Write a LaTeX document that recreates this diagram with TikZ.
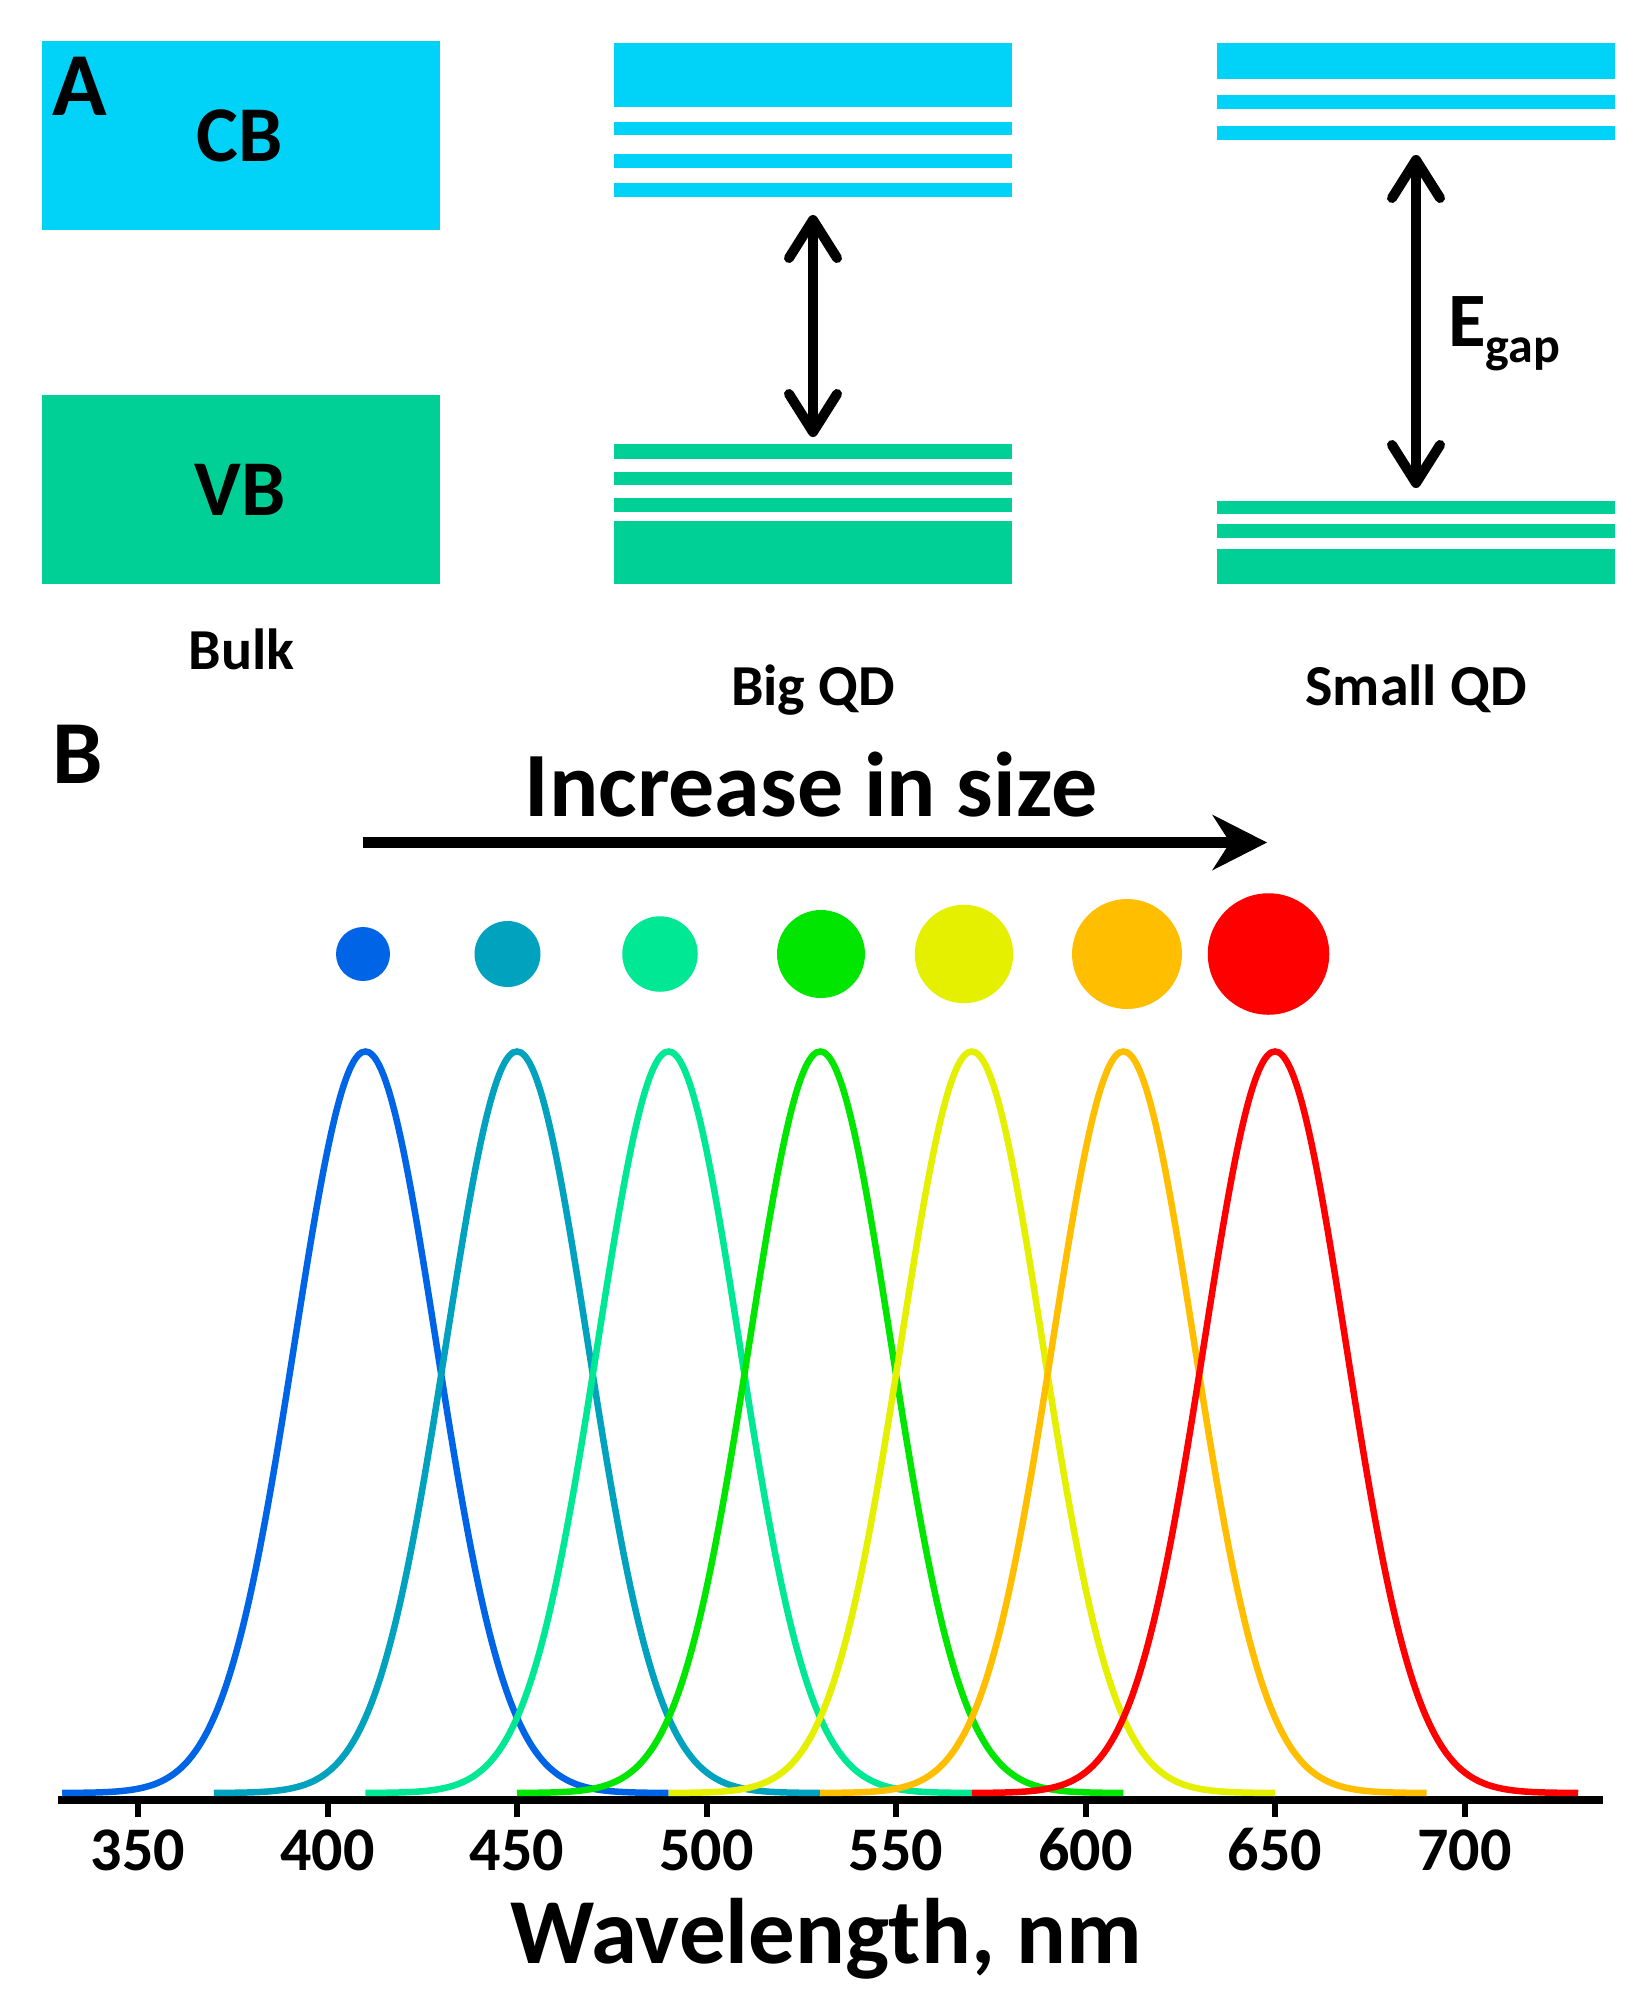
\documentclass[tikz,border=0pt]{standalone}
\usepackage{fontspec}
\setmainfont{Carlito}
\usetikzlibrary{arrows.meta}
\definecolor{cbcol}{RGB}{0,210,248}
\definecolor{vbcol}{RGB}{0,207,150}
\definecolor{qa}{RGB}{0,100,230}
\definecolor{qb}{RGB}{0,162,190}
\definecolor{qc}{RGB}{0,232,148}
\definecolor{qd}{RGB}{0,230,0}
\definecolor{qe}{RGB}{228,240,0}
\definecolor{qf}{RGB}{255,190,0}
\definecolor{qg}{RGB}{255,0,0}
\newcommand{\myfs}[1]{\fontsize{#1}{#1}\selectfont}
\begin{document}
\begin{tikzpicture}[x=1pt,y=-1pt,
  lbl/.style={inner sep=0pt, outer sep=0pt, font=\bfseries},
  cbband/.style={fill=cbcol},
  vbband/.style={fill=vbcol},
  gaparrow/.style={line width=10pt,
    {Straight Barb[round,length=38pt,width=48pt]}-{Straight Barb[round,length=38pt,width=48pt]}},
  sizearrow/.style={line width=11pt, -{Stealth[length=55pt,width=56pt,inset=18pt,line width=0pt]}},
  spec/.style={line width=6.5pt},
  dot/.style={circle, inner sep=0pt, outer sep=0pt, draw=none},
  axisline/.style={line width=8pt},
  tickline/.style={line width=6pt}]
\useasboundingbox (0,0) rectangle (1651,2008);
\fill[white] (0,0) rectangle (1651,2008);

% ---------- Panel A ----------
% Bulk
\fill[cbband] (42,41) rectangle (440,230);
\fill[vbband] (42,395) rectangle (440,584);
\node[lbl, anchor=base west] (labA) at (52,115) {\myfs{90}A};
\node[lbl, anchor=base] (cb) at (240,161.5) {\myfs{79}CB};
\node[lbl, anchor=base] (vb) at (240,515.5) {\myfs{79}VB};
\node[lbl, anchor=base] (bulk) at (241.5,669) {\myfs{58}Bulk};

% Big QD
\fill[cbband] (614,43) rectangle (1012,106.5);
\fill[cbband] (614,122) rectangle (1012,135);
\fill[cbband] (614,154) rectangle (1012,167.5);
\fill[cbband] (614,182.5) rectangle (1012,196.5);
\fill[vbband] (614,444) rectangle (1012,458.5);
\fill[vbband] (614,471.5) rectangle (1012,485);
\fill[vbband] (614,498) rectangle (1012,512);
\fill[vbband] (614,521) rectangle (1012,584);
\coordinate (bigtop) at (813,215);
\coordinate (bigbot) at (813,437);
\draw[gaparrow] (bigtop) -- (bigbot);
\node[lbl, anchor=base] (bigqd) at (813,705) {\myfs{58}Big QD};

% Small QD
\fill[cbband] (1217,43) rectangle (1615,78.5);
\fill[cbband] (1217,95) rectangle (1615,108.5);
\fill[cbband] (1217,125.5) rectangle (1615,139.5);
\fill[vbband] (1217,500.5) rectangle (1615,514);
\fill[vbband] (1217,523.5) rectangle (1615,537.5);
\fill[vbband] (1217,549) rectangle (1615,584);
\coordinate (smalltop) at (1416,155);
\coordinate (smallbot) at (1416,488);
\draw[gaparrow] (smalltop) -- (smallbot);
\node[lbl, anchor=base west] (egap) at (1448,346) {\myfs{77}E\raisebox{-16pt}{\myfs{50}gap}};
\node[lbl, anchor=base] (smallqd) at (1416,705) {\myfs{58}Small QD};

% ---------- Panel B ----------
\node[lbl, anchor=base west] (labB) at (52,783) {\myfs{90}B};
\node[lbl, anchor=base] (incr) at (811,816) {\myfs{92}Increase in size};
\coordinate (incL) at (362.7,842.5);
\coordinate (incR) at (1267,842.5);
\draw[sizearrow] (incL) -- (incR);

\node[dot, fill=qa, minimum size=54pt]  (d1) at (363,954) {};
\node[dot, fill=qb, minimum size=66pt]  (d2) at (507.5,954) {};
\node[dot, fill=qc, minimum size=75.5pt] (d3) at (660,954) {};
\node[dot, fill=qd, minimum size=88pt]  (d4) at (821,954) {};
\node[dot, fill=qe, minimum size=98.5pt] (d5) at (964,954) {};
\node[dot, fill=qf, minimum size=110pt] (d6) at (1127,954) {};
\node[dot, fill=qg, minimum size=121.5pt] (d7) at (1268.5,954) {};

% axis
\coordinate (axL) at (58,1800);
\coordinate (axR) at (1603,1800);
\draw[axisline] (axL) -- (axR);
\foreach \v in {350,400,...,700}{
  \pgfmathsetmacro{\xx}{138+3.79*(\v-350)}
  \coordinate (tk\v) at (\xx,1800);
  \coordinate (tke\v) at (\xx,1817);
  \draw[tickline] (tk\v) -- (tke\v);
  \node[lbl, anchor=base] (tl\v) at (\xx,1870) {\myfs{62}\v};
}
\node[lbl, anchor=base] (xlab) at (826,1963) {\myfs{93}Wavelength, nm};

% spectra
\foreach \lam/\col in {410/qa,450/qb,490/qc,530/qd,570/qe,610/qf,650/qg}{
  \pgfmathsetmacro{\lo}{\lam-80}
  \pgfmathsetmacro{\hi}{\lam+80}
  \draw[spec, \col] plot[domain=\lo:\hi, samples=161, smooth]
    ({138+3.79*(\x-350)},{1793-741.5*exp(-((\x-\lam)^2)/699.4)});
}
\end{tikzpicture}
\end{document}
